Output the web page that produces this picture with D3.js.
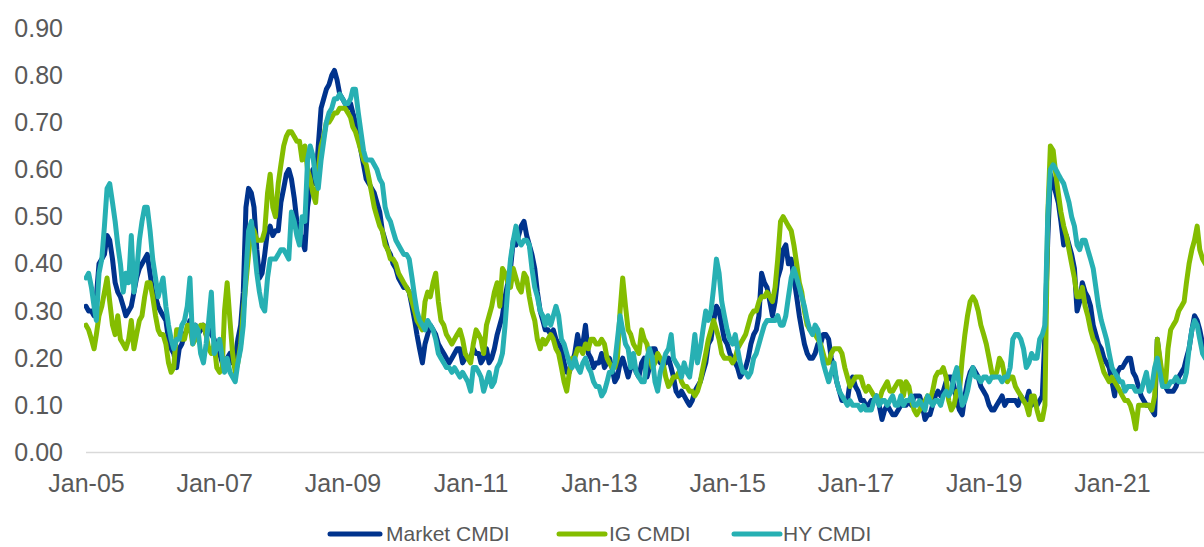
<!DOCTYPE html>
<html>
<head>
<meta charset="utf-8">
<script src="https://cdn.jsdelivr.net/npm/d3@7"></script>
<style>
  body { margin: 0; background: #fff; }
  svg { display: block; }
</style>
</head>
<body>
<svg id="chart" width="1204" height="547"></svg>
<script>
// Semi-monthly readings (1st and 16th of each month), starting January 2005.
const startYear = 2005;

const marketCMDI = [
  0.31,0.30,0.30,0.29,0.33,0.40,0.41,0.42,0.46,0.45,0.41,0.36,0.34,0.33,0.31,0.29,0.30,0.31,0.34,0.37,0.39,0.40,0.41,0.42, // 2005
  0.38,0.34,0.33,0.31,0.30,0.29,0.28,0.24,0.22,0.21,0.18,0.22,0.23,0.25,0.26,0.28,0.25,0.27,0.25,0.26,0.27,0.25,0.27,0.25, // 2006
  0.24,0.21,0.21,0.19,0.19,0.20,0.21,0.19,0.20,0.24,0.27,0.34,0.52,0.56,0.55,0.52,0.43,0.37,0.38,0.42,0.47,0.48,0.46,0.47, // 2007
  0.47,0.53,0.56,0.59,0.60,0.58,0.54,0.49,0.47,0.45,0.43,0.52,0.56,0.60,0.57,0.65,0.73,0.75,0.77,0.78,0.80,0.81,0.79,0.76, // 2008
  0.75,0.74,0.73,0.74,0.72,0.70,0.67,0.64,0.61,0.58,0.57,0.56,0.55,0.53,0.51,0.47,0.45,0.43,0.42,0.40,0.39,0.37,0.36,0.35, // 2009
  0.35,0.34,0.31,0.28,0.25,0.22,0.19,0.23,0.25,0.27,0.26,0.25,0.23,0.22,0.21,0.20,0.19,0.20,0.21,0.22,0.22,0.19,0.20,0.20, // 2010
  0.20,0.22,0.21,0.21,0.19,0.20,0.22,0.19,0.20,0.22,0.25,0.27,0.29,0.33,0.36,0.39,0.45,0.44,0.46,0.48,0.49,0.46,0.44,0.42, // 2011
  0.39,0.34,0.30,0.28,0.26,0.26,0.25,0.26,0.24,0.23,0.22,0.19,0.17,0.17,0.19,0.21,0.25,0.22,0.23,0.27,0.21,0.20,0.18,0.19, // 2012
  0.19,0.21,0.18,0.19,0.20,0.18,0.15,0.16,0.19,0.20,0.18,0.16,0.18,0.19,0.17,0.16,0.19,0.20,0.16,0.18,0.22,0.22,0.20,0.19, // 2013
  0.19,0.19,0.20,0.18,0.16,0.13,0.12,0.13,0.12,0.11,0.10,0.11,0.13,0.14,0.15,0.17,0.19,0.23,0.24,0.28,0.31,0.30,0.27,0.24, // 2014
  0.23,0.21,0.20,0.19,0.18,0.16,0.17,0.18,0.20,0.23,0.25,0.26,0.29,0.38,0.36,0.35,0.32,0.29,0.32,0.37,0.39,0.43,0.44,0.40, // 2015
  0.41,0.37,0.33,0.29,0.26,0.23,0.21,0.20,0.20,0.21,0.23,0.23,0.25,0.25,0.24,0.20,0.18,0.15,0.13,0.11,0.11,0.11,0.15,0.16, // 2016
  0.14,0.13,0.11,0.11,0.10,0.10,0.11,0.11,0.12,0.10,0.07,0.09,0.10,0.09,0.08,0.08,0.09,0.10,0.10,0.10,0.11,0.10,0.12,0.12, // 2017
  0.12,0.10,0.07,0.08,0.08,0.10,0.12,0.13,0.12,0.13,0.15,0.16,0.16,0.14,0.11,0.09,0.08,0.12,0.15,0.17,0.18,0.17,0.16,0.14, // 2018
  0.13,0.12,0.10,0.09,0.09,0.10,0.11,0.12,0.10,0.11,0.11,0.11,0.11,0.10,0.12,0.11,0.11,0.13,0.10,0.11,0.10,0.11,0.12,0.25, // 2019
  0.45,0.59,0.57,0.55,0.53,0.49,0.44,0.46,0.44,0.42,0.39,0.30,0.32,0.36,0.34,0.33,0.31,0.27,0.25,0.23,0.22,0.20,0.19,0.18, // 2020
  0.15,0.12,0.17,0.18,0.18,0.19,0.20,0.20,0.17,0.16,0.14,0.12,0.11,0.10,0.10,0.09,0.08,0.24,0.19,0.15,0.14,0.13,0.13,0.13, // 2021
  0.14,0.16,0.17,0.18,0.20,0.22,0.26,0.29,0.28,0.26,0.23,0.22                                                              // 2022
];

const igCMDI = [
  0.27,0.26,0.24,0.22,0.25,0.29,0.31,0.34,0.37,0.32,0.27,0.25,0.29,0.24,0.23,0.22,0.24,0.28,0.22,0.25,0.28,0.29,0.33,0.36, // 2005
  0.36,0.33,0.29,0.26,0.25,0.25,0.23,0.19,0.17,0.18,0.26,0.26,0.24,0.24,0.27,0.27,0.23,0.24,0.26,0.27,0.27,0.25,0.22,0.21, // 2006
  0.23,0.18,0.17,0.18,0.30,0.36,0.28,0.21,0.17,0.19,0.23,0.30,0.36,0.42,0.48,0.47,0.45,0.45,0.45,0.47,0.55,0.59,0.52,0.50, // 2007
  0.57,0.61,0.65,0.67,0.68,0.68,0.67,0.66,0.66,0.62,0.65,0.60,0.58,0.55,0.53,0.60,0.65,0.67,0.70,0.70,0.71,0.72,0.72,0.73, // 2008
  0.73,0.73,0.72,0.71,0.69,0.68,0.66,0.64,0.62,0.61,0.58,0.55,0.52,0.50,0.48,0.47,0.44,0.43,0.41,0.41,0.40,0.38,0.37,0.36, // 2009
  0.35,0.34,0.32,0.30,0.28,0.27,0.26,0.32,0.34,0.33,0.36,0.38,0.32,0.28,0.27,0.25,0.24,0.23,0.24,0.25,0.26,0.24,0.21,0.20, // 2010
  0.19,0.23,0.26,0.25,0.24,0.21,0.27,0.29,0.31,0.34,0.36,0.31,0.39,0.38,0.36,0.35,0.39,0.37,0.35,0.34,0.38,0.37,0.33,0.30, // 2011
  0.28,0.24,0.22,0.24,0.23,0.24,0.25,0.24,0.22,0.21,0.18,0.15,0.13,0.17,0.20,0.20,0.22,0.22,0.21,0.23,0.22,0.24,0.24,0.23, // 2012
  0.23,0.24,0.23,0.20,0.19,0.18,0.18,0.20,0.30,0.37,0.31,0.26,0.25,0.23,0.22,0.21,0.26,0.24,0.23,0.20,0.18,0.19,0.21,0.20, // 2013
  0.19,0.16,0.14,0.15,0.16,0.16,0.17,0.15,0.14,0.14,0.13,0.13,0.12,0.13,0.15,0.18,0.21,0.24,0.26,0.28,0.26,0.24,0.21,0.20, // 2014
  0.20,0.20,0.19,0.20,0.22,0.23,0.24,0.25,0.27,0.29,0.30,0.30,0.32,0.33,0.33,0.34,0.33,0.32,0.35,0.41,0.49,0.50,0.49,0.48, // 2015
  0.47,0.44,0.40,0.36,0.34,0.30,0.27,0.26,0.26,0.25,0.24,0.23,0.21,0.19,0.19,0.21,0.22,0.22,0.22,0.21,0.18,0.16,0.14,0.15, // 2016
  0.16,0.16,0.16,0.14,0.13,0.14,0.13,0.12,0.11,0.11,0.13,0.14,0.15,0.13,0.13,0.14,0.15,0.15,0.12,0.15,0.14,0.11,0.09,0.08, // 2017
  0.09,0.10,0.11,0.12,0.11,0.13,0.16,0.17,0.17,0.18,0.16,0.11,0.09,0.10,0.13,0.13,0.20,0.25,0.29,0.32,0.33,0.32,0.30,0.27, // 2018
  0.25,0.23,0.20,0.17,0.16,0.17,0.20,0.19,0.16,0.15,0.16,0.16,0.14,0.13,0.12,0.11,0.10,0.08,0.12,0.12,0.09,0.07,0.07,0.10, // 2019
  0.50,0.65,0.64,0.59,0.55,0.51,0.48,0.46,0.43,0.40,0.37,0.33,0.33,0.35,0.31,0.29,0.26,0.24,0.23,0.21,0.19,0.17,0.16,0.15, // 2020
  0.16,0.15,0.14,0.13,0.12,0.11,0.11,0.10,0.08,0.05,0.10,0.10,0.10,0.10,0.10,0.09,0.12,0.24,0.20,0.16,0.14,0.22,0.26,0.27, // 2021
  0.28,0.30,0.31,0.32,0.36,0.40,0.43,0.45,0.48,0.43,0.41,0.40                                                              // 2022
];

const hyCMDI = [
  0.37,0.38,0.35,0.31,0.28,0.38,0.41,0.48,0.56,0.57,0.53,0.49,0.44,0.40,0.34,0.38,0.36,0.46,0.34,0.38,0.45,0.49,0.52,0.52, // 2005
  0.47,0.41,0.37,0.33,0.35,0.37,0.31,0.27,0.24,0.22,0.24,0.24,0.27,0.28,0.31,0.37,0.23,0.27,0.26,0.21,0.19,0.23,0.28,0.34, // 2006
  0.21,0.22,0.24,0.20,0.17,0.20,0.17,0.16,0.15,0.19,0.22,0.27,0.38,0.47,0.49,0.44,0.38,0.34,0.31,0.30,0.37,0.41,0.41,0.41, // 2007
  0.42,0.43,0.43,0.42,0.41,0.51,0.49,0.46,0.44,0.50,0.49,0.62,0.65,0.63,0.58,0.56,0.62,0.66,0.70,0.72,0.73,0.75,0.75,0.76, // 2008
  0.75,0.74,0.74,0.75,0.77,0.77,0.72,0.68,0.64,0.62,0.62,0.62,0.61,0.60,0.58,0.57,0.52,0.50,0.49,0.47,0.45,0.44,0.43,0.42, // 2009
  0.42,0.41,0.37,0.33,0.30,0.28,0.27,0.26,0.28,0.27,0.26,0.24,0.21,0.20,0.19,0.18,0.18,0.17,0.18,0.17,0.16,0.17,0.16,0.15, // 2010
  0.13,0.18,0.18,0.17,0.16,0.13,0.15,0.17,0.14,0.15,0.18,0.19,0.21,0.27,0.35,0.41,0.45,0.48,0.45,0.44,0.45,0.45,0.44,0.39, // 2011
  0.35,0.33,0.30,0.29,0.27,0.29,0.27,0.29,0.31,0.29,0.24,0.23,0.21,0.19,0.18,0.20,0.18,0.17,0.19,0.20,0.18,0.17,0.15,0.14, // 2012
  0.14,0.12,0.13,0.15,0.17,0.17,0.19,0.24,0.29,0.26,0.23,0.22,0.18,0.21,0.17,0.16,0.15,0.15,0.20,0.22,0.20,0.15,0.13,0.17, // 2013
  0.19,0.21,0.22,0.25,0.20,0.19,0.18,0.16,0.19,0.17,0.16,0.20,0.25,0.19,0.22,0.26,0.30,0.28,0.30,0.35,0.41,0.38,0.32,0.29, // 2014
  0.26,0.24,0.23,0.25,0.22,0.19,0.17,0.17,0.16,0.17,0.20,0.21,0.23,0.25,0.27,0.28,0.28,0.28,0.28,0.29,0.27,0.27,0.29,0.33, // 2015
  0.37,0.39,0.37,0.35,0.33,0.31,0.28,0.26,0.25,0.27,0.26,0.22,0.19,0.17,0.15,0.17,0.19,0.15,0.13,0.12,0.11,0.10,0.11,0.10, // 2016
  0.10,0.10,0.09,0.10,0.09,0.09,0.09,0.11,0.12,0.10,0.11,0.11,0.10,0.11,0.12,0.10,0.10,0.12,0.10,0.11,0.11,0.12,0.10,0.10, // 2017
  0.11,0.10,0.09,0.12,0.11,0.10,0.11,0.11,0.10,0.12,0.13,0.12,0.13,0.16,0.18,0.14,0.10,0.11,0.13,0.16,0.18,0.16,0.16,0.15, // 2018
  0.16,0.16,0.15,0.16,0.16,0.16,0.16,0.15,0.16,0.16,0.18,0.24,0.25,0.25,0.24,0.22,0.18,0.19,0.21,0.20,0.20,0.24,0.25,0.27, // 2019
  0.50,0.60,0.61,0.60,0.59,0.58,0.57,0.55,0.53,0.50,0.48,0.44,0.43,0.45,0.45,0.43,0.41,0.39,0.35,0.31,0.28,0.26,0.24,0.21, // 2020
  0.18,0.17,0.16,0.15,0.15,0.13,0.14,0.14,0.14,0.13,0.13,0.13,0.15,0.17,0.13,0.14,0.18,0.20,0.17,0.14,0.14,0.14,0.15,0.15, // 2021
  0.16,0.15,0.15,0.15,0.17,0.22,0.26,0.28,0.27,0.24,0.21,0.20                                                              // 2022
];

const yTickValues = [0, 0.1, 0.2, 0.3, 0.4, 0.5, 0.6, 0.7, 0.8, 0.9];
const xTickYears = [2005, 2007, 2009, 2011, 2013, 2015, 2017, 2019, 2021];
const seriesNames = ["Market CMDI", "IG CMDI", "HY CMDI"];
const seriesColors = ["#00338d", "#84bd00", "#27b0b3"];

// ---- layout ----
const W = 1204, H = 547;
const plotLeft = 86;
const svg = d3.select("#chart");
const textColor = "#595959";
const font = "'Liberation Sans', Arial, sans-serif";

// observation dates: 1st and 16th of every month
const dates = marketCMDI.map((_, i) => new Date(startYear, Math.floor(i / 2), i % 2 ? 16 : 1));

const x = d3.scaleTime()
  .domain([new Date(2005, 0, 1), new Date(2021, 0, 1)])
  .range([plotLeft, 1112]);

const y = d3.scaleLinear()
  .domain([0, 0.9])
  .range([452.5, 28]);

// clip so the series stop at the plot edges
svg.append("defs").append("clipPath").attr("id", "plotClip")
  .append("rect").attr("x", plotLeft - 2).attr("y", 0).attr("width", W - plotLeft + 2).attr("height", H);

// y axis labels
const yAxis = d3.axisLeft(y).tickValues(yTickValues).tickFormat(d3.format(".2f")).tickSize(0).tickPadding(0);
const gy = svg.append("g").attr("transform", "translate(63,0)").call(yAxis);
gy.select(".domain").remove();
gy.selectAll("text").attr("fill", textColor).style("font-family", font).style("font-size", "25px");

// x axis labels
const xAxis = d3.axisBottom(x)
  .tickValues(xTickYears.map(yr => new Date(yr, 0, 1)))
  .tickFormat(d3.timeFormat("%b-%y"))
  .tickSize(0).tickPadding(0);
const gx = svg.append("g").attr("transform", "translate(0,474)").call(xAxis);
gx.select(".domain").remove();
gx.selectAll("text").attr("fill", textColor).style("font-family", font).style("font-size", "25px");

// zero baseline
svg.append("line")
  .attr("x1", plotLeft).attr("x2", W)
  .attr("y1", y(0)).attr("y2", y(0))
  .attr("stroke", "#d9d9d9").attr("stroke-width", 1.5);

// series lines
const series = [marketCMDI, igCMDI, hyCMDI];
const line = d3.line().x((d, i) => x(dates[i])).y(d => y(d));

svg.append("g").attr("clip-path", "url(#plotClip)")
  .selectAll("path")
  .data(series)
  .join("path")
  .attr("d", d => line(d))
  .attr("fill", "none")
  .attr("stroke", (d, i) => seriesColors[i])
  .attr("stroke-width", 5)
  .attr("stroke-linejoin", "round")
  .attr("stroke-linecap", "round");

// legend
const legendItems = [
  { x1: 330, x2: 380, tx: 386 },
  { x1: 559, x2: 605, tx: 609 },
  { x1: 734, x2: 780, tx: 783 }
];
const legendY = 534;
const lg = svg.append("g");
legendItems.forEach((it, i) => {
  lg.append("line")
    .attr("x1", it.x1).attr("x2", it.x2)
    .attr("y1", legendY).attr("y2", legendY)
    .attr("stroke", seriesColors[i]).attr("stroke-width", 5)
    .attr("stroke-linecap", "round");
  lg.append("text")
    .attr("x", it.tx).attr("y", legendY + 7)
    .attr("fill", textColor)
    .style("font-family", font).style("font-size", "21px")
    .text(seriesNames[i]);
});
</script>
</body>
</html>
